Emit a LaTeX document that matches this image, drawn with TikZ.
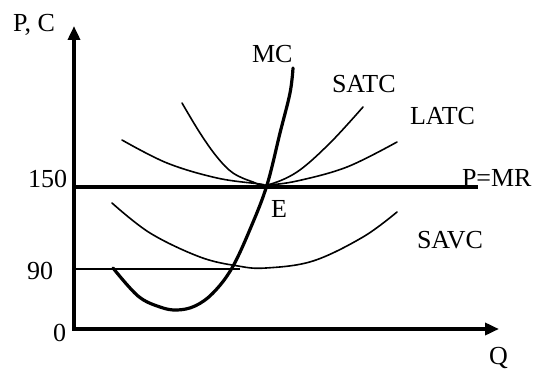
\documentclass[tikz,border=0pt]{standalone}
\usepackage{fontspec}
\setmainfont{Liberation Serif}
\usetikzlibrary{arrows.meta}
\tikzset{
  lbl/.style={anchor=base west, inner sep=0pt, outer sep=0pt, font=\fontsize{26}{30}\selectfont},
  axis/.style={line width=3.6pt, -{Triangle[length=14pt,width=12pt]}},
  thincurve/.style={line width=1.6pt, line cap=round},
  thickcurve/.style={line width=3.2pt, line cap=round, line join=round},
}
\begin{document}
\begin{tikzpicture}[x=1pt,y=-1pt]
\useasboundingbox (0,0) rectangle (537,369);
% axes
\coordinate (O) at (74,329);
\coordinate (ytip) at (74,26);
\coordinate (xtip) at (499,329);
\draw[axis] ([yshift=-1.8pt]O) -- (ytip);
\draw[axis] ([xshift=-1.8pt]O) -- (xtip);
% price lines
\coordinate (p150) at (74,187);
\coordinate (pend) at (478,187);
\draw[line width=3.2pt] (p150) -- (pend);
\coordinate (p90) at (74,269);
\coordinate (p90end) at (240,269);
\draw[line width=1.5pt] (p90) -- (p90end);
% SATC
\draw[thincurve] plot[smooth, tension=0.6] coordinates {(182,103) (200,133) (217,157) (233,173) (253,182) (267,185) (297,172) (330,143) (363,107)};
% LATC
\draw[thincurve] plot[smooth, tension=0.6] coordinates {(122,140) (167,163) (217,178) (260,184) (267,185) (297,181) (347,167) (397,142)};
% SAVC
\draw[thincurve] plot[smooth, tension=0.6] coordinates {(112,203) (150,233) (200,257) (238,266) (266,268) (313,261) (363,237) (397,212)};
% MC
\draw[thickcurve] plot[smooth, tension=0.6] coordinates {(113,268) (138,296) (160,307) (177,310) (195,306) (213,293) (232,268) (251,227) (267,185) (280,133) (290,93) (293,68)};
% labels
\node[lbl] (lpc) at (13,32) {P, C};
\node[lbl] (lmc) at (252,62) {MC};
\node[lbl] (lsatc) at (332,92) {SATC};
\node[lbl] (llatc) at (410,124) {LATC};
\node[lbl] (lpmr) at (462,186) {P=MR};
\node[lbl] (l150) at (28,187) {150};
\node[lbl] (le) at (271,217) {E};
\node[lbl] (lsavc) at (417,248) {SAVC};
\node[lbl] (l90) at (27,279) {90};
\node[lbl] (l0) at (53,341) {0};
\node[lbl] (lq) at (489,364) {Q};
\end{tikzpicture}
\end{document}
